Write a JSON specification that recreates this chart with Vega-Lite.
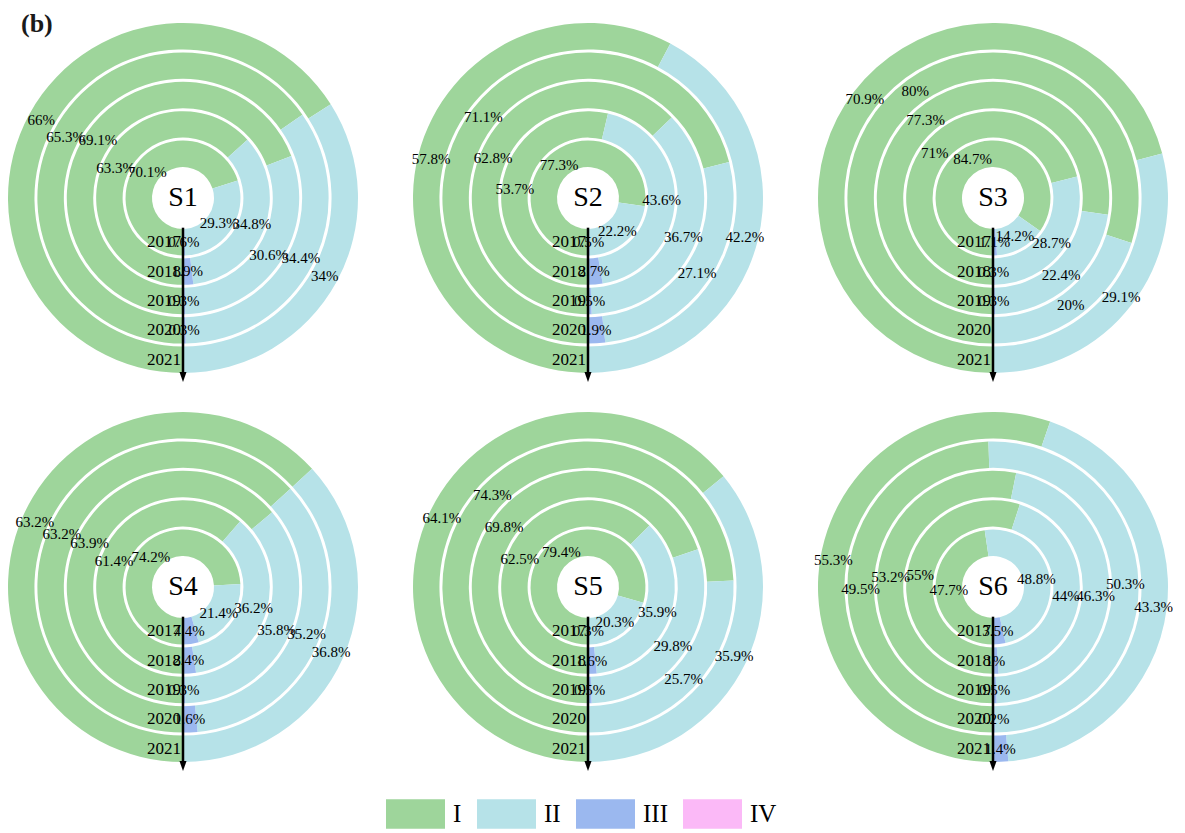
{
  "$schema": "https://vega.github.io/schema/vega-lite/v6.json",
  "background": "white",
  "padding": {"left": 3, "top": 11, "right": 0, "bottom": 0},
  "title": {"text": "(b)", "anchor": "start", "font": "Liberation Serif", "fontSize": 26, "fontWeight": "bold", "color": "#1a1a1a", "offset": -19, "dx": 18},
  "data": {"values": [
    {"site":"S1","year":"2017","cat":"I","value":0.701},{"site":"S1","year":"2017","cat":"II","value":0.293},{"site":"S1","year":"2017","cat":"III","value":0.006},{"site":"S1","year":"2017","cat":"IV","value":0},
    {"site":"S1","year":"2018","cat":"I","value":0.633},{"site":"S1","year":"2018","cat":"II","value":0.348},{"site":"S1","year":"2018","cat":"III","value":0.019},{"site":"S1","year":"2018","cat":"IV","value":0},
    {"site":"S1","year":"2019","cat":"I","value":0.691},{"site":"S1","year":"2019","cat":"II","value":0.306},{"site":"S1","year":"2019","cat":"III","value":0.003},{"site":"S1","year":"2019","cat":"IV","value":0},
    {"site":"S1","year":"2020","cat":"I","value":0.653},{"site":"S1","year":"2020","cat":"II","value":0.344},{"site":"S1","year":"2020","cat":"III","value":0.003},{"site":"S1","year":"2020","cat":"IV","value":0},
    {"site":"S1","year":"2021","cat":"I","value":0.66},{"site":"S1","year":"2021","cat":"II","value":0.34},{"site":"S1","year":"2021","cat":"III","value":0},{"site":"S1","year":"2021","cat":"IV","value":0},
    {"site":"S2","year":"2017","cat":"I","value":0.773},{"site":"S2","year":"2017","cat":"II","value":0.222},{"site":"S2","year":"2017","cat":"III","value":0.005},{"site":"S2","year":"2017","cat":"IV","value":0},
    {"site":"S2","year":"2018","cat":"I","value":0.537},{"site":"S2","year":"2018","cat":"II","value":0.436},{"site":"S2","year":"2018","cat":"III","value":0.027},{"site":"S2","year":"2018","cat":"IV","value":0},
    {"site":"S2","year":"2019","cat":"I","value":0.628},{"site":"S2","year":"2019","cat":"II","value":0.367},{"site":"S2","year":"2019","cat":"III","value":0.005},{"site":"S2","year":"2019","cat":"IV","value":0},
    {"site":"S2","year":"2020","cat":"I","value":0.711},{"site":"S2","year":"2020","cat":"II","value":0.271},{"site":"S2","year":"2020","cat":"III","value":0.019},{"site":"S2","year":"2020","cat":"IV","value":0},
    {"site":"S2","year":"2021","cat":"I","value":0.578},{"site":"S2","year":"2021","cat":"II","value":0.422},{"site":"S2","year":"2021","cat":"III","value":0},{"site":"S2","year":"2021","cat":"IV","value":0},
    {"site":"S3","year":"2017","cat":"I","value":0.847},{"site":"S3","year":"2017","cat":"II","value":0.142},{"site":"S3","year":"2017","cat":"III","value":0.011},{"site":"S3","year":"2017","cat":"IV","value":0},
    {"site":"S3","year":"2018","cat":"I","value":0.71},{"site":"S3","year":"2018","cat":"II","value":0.287},{"site":"S3","year":"2018","cat":"III","value":0.003},{"site":"S3","year":"2018","cat":"IV","value":0},
    {"site":"S3","year":"2019","cat":"I","value":0.773},{"site":"S3","year":"2019","cat":"II","value":0.224},{"site":"S3","year":"2019","cat":"III","value":0.003},{"site":"S3","year":"2019","cat":"IV","value":0},
    {"site":"S3","year":"2020","cat":"I","value":0.8},{"site":"S3","year":"2020","cat":"II","value":0.2},{"site":"S3","year":"2020","cat":"III","value":0},{"site":"S3","year":"2020","cat":"IV","value":0},
    {"site":"S3","year":"2021","cat":"I","value":0.709},{"site":"S3","year":"2021","cat":"II","value":0.291},{"site":"S3","year":"2021","cat":"III","value":0},{"site":"S3","year":"2021","cat":"IV","value":0},
    {"site":"S4","year":"2017","cat":"I","value":0.742},{"site":"S4","year":"2017","cat":"II","value":0.214},{"site":"S4","year":"2017","cat":"III","value":0.044},{"site":"S4","year":"2017","cat":"IV","value":0},
    {"site":"S4","year":"2018","cat":"I","value":0.614},{"site":"S4","year":"2018","cat":"II","value":0.362},{"site":"S4","year":"2018","cat":"III","value":0.024},{"site":"S4","year":"2018","cat":"IV","value":0},
    {"site":"S4","year":"2019","cat":"I","value":0.639},{"site":"S4","year":"2019","cat":"II","value":0.358},{"site":"S4","year":"2019","cat":"III","value":0.003},{"site":"S4","year":"2019","cat":"IV","value":0},
    {"site":"S4","year":"2020","cat":"I","value":0.632},{"site":"S4","year":"2020","cat":"II","value":0.352},{"site":"S4","year":"2020","cat":"III","value":0.016},{"site":"S4","year":"2020","cat":"IV","value":0},
    {"site":"S4","year":"2021","cat":"I","value":0.632},{"site":"S4","year":"2021","cat":"II","value":0.368},{"site":"S4","year":"2021","cat":"III","value":0},{"site":"S4","year":"2021","cat":"IV","value":0},
    {"site":"S5","year":"2017","cat":"I","value":0.794},{"site":"S5","year":"2017","cat":"II","value":0.203},{"site":"S5","year":"2017","cat":"III","value":0.003},{"site":"S5","year":"2017","cat":"IV","value":0},
    {"site":"S5","year":"2018","cat":"I","value":0.625},{"site":"S5","year":"2018","cat":"II","value":0.359},{"site":"S5","year":"2018","cat":"III","value":0.016},{"site":"S5","year":"2018","cat":"IV","value":0},
    {"site":"S5","year":"2019","cat":"I","value":0.698},{"site":"S5","year":"2019","cat":"II","value":0.298},{"site":"S5","year":"2019","cat":"III","value":0.005},{"site":"S5","year":"2019","cat":"IV","value":0},
    {"site":"S5","year":"2020","cat":"I","value":0.743},{"site":"S5","year":"2020","cat":"II","value":0.257},{"site":"S5","year":"2020","cat":"III","value":0},{"site":"S5","year":"2020","cat":"IV","value":0},
    {"site":"S5","year":"2021","cat":"I","value":0.641},{"site":"S5","year":"2021","cat":"II","value":0.359},{"site":"S5","year":"2021","cat":"III","value":0},{"site":"S5","year":"2021","cat":"IV","value":0},
    {"site":"S6","year":"2017","cat":"I","value":0.477},{"site":"S6","year":"2017","cat":"II","value":0.488},{"site":"S6","year":"2017","cat":"III","value":0.035},{"site":"S6","year":"2017","cat":"IV","value":0},
    {"site":"S6","year":"2018","cat":"I","value":0.55},{"site":"S6","year":"2018","cat":"II","value":0.44},{"site":"S6","year":"2018","cat":"III","value":0.01},{"site":"S6","year":"2018","cat":"IV","value":0},
    {"site":"S6","year":"2019","cat":"I","value":0.532},{"site":"S6","year":"2019","cat":"II","value":0.463},{"site":"S6","year":"2019","cat":"III","value":0.005},{"site":"S6","year":"2019","cat":"IV","value":0},
    {"site":"S6","year":"2020","cat":"I","value":0.495},{"site":"S6","year":"2020","cat":"II","value":0.503},{"site":"S6","year":"2020","cat":"III","value":0.002},{"site":"S6","year":"2020","cat":"IV","value":0},
    {"site":"S6","year":"2021","cat":"I","value":0.553},{"site":"S6","year":"2021","cat":"II","value":0.433},{"site":"S6","year":"2021","cat":"III","value":0.014},{"site":"S6","year":"2021","cat":"IV","value":0}
  ]},
  "facet": {"field": "site", "type": "nominal", "title": null, "header": {"title": null, "labels": false, "labelExpr": "''", "labelFontSize": 0, "labelPadding": 0, "titlePadding": 0}},
  "columns": 3,
  "spacing": {"row": 29, "column": 45},
  "bounds": "flush",
  "spec": {
    "width": 360,
    "height": 360,
    "layer": [
      {
        "mark": {"type": "arc", "strokeWidth": 0},
        "encoding": {
          "theta": {"field": "value", "type": "quantitative", "stack": "normalize", "scale": {"domain": [0, 1], "range": [3.14159265, 9.42477796]}},
          "radius": {"field": "year", "type": "ordinal", "scale": {"type": "band", "domain": ["2017","2018","2019","2020","2021"], "range": [31, 175], "paddingInner": 0.1, "paddingOuter": 0}},
          "order": {"field": "cat", "type": "ordinal", "sort": "ascending"},
          "color": {"field": "cat", "type": "nominal",
            "scale": {"domain": ["I","II","III","IV"], "range": ["#9ed59b", "#b6e2e8", "#9bb8ef", "#fbb9f7"]},
            "legend": {"title": null, "orient": "none", "legendX": 383, "legendY": 766, "direction": "horizontal",
              "symbolType": "M-1,-0.5H1V0.5H-1Z", "symbolSize": 3481, "symbolStrokeWidth": 0, "symbolOpacity": 1,
              "labelFont": "Liberation Serif", "labelFontSize": 25, "labelColor": "black", "labelOffset": 8, "columnPadding": 15}}
        }
      },
      {
        "transform": [{"filter": "datum.value > 0"}],
        "mark": {"type": "text", "font": "Liberation Serif", "fontSize": 15, "color": "black"},
        "encoding": {
          "theta": {"field": "value", "type": "quantitative", "stack": "normalize", "scale": {"domain": [0, 1], "range": [3.14159265, 9.42477796]}},
          "radius": {"field": "year", "type": "ordinal", "bandPosition": 0.5, "scale": {"type": "band", "domain": ["2017","2018","2019","2020","2021"], "range": [31, 175], "paddingInner": 0.1, "paddingOuter": 0}},
          "order": {"field": "cat", "type": "ordinal", "sort": "ascending"},
          "text": {"field": "value", "type": "quantitative", "format": ".1~%"}
        }
      },
      {
        "transform": [{"aggregate": [{"op": "count", "as": "n"}], "groupby": ["site", "year"]}],
        "mark": {"type": "text", "font": "Liberation Serif", "fontSize": 17, "color": "black", "align": "right", "baseline": "middle", "dx": -2},
        "encoding": {
          "theta": {"datum": 0, "type": "quantitative"},
          "radius": {"field": "year", "type": "ordinal", "bandPosition": 0.5},
          "text": {"field": "year", "type": "nominal"}
        }
      },
      {
        "transform": [{"aggregate": [{"op": "count", "as": "n"}], "groupby": ["site"]}],
        "mark": {"type": "text", "font": "Liberation Serif", "fontSize": 28, "color": "black", "baseline": "middle"},
        "encoding": {
          "text": {"field": "site", "type": "nominal"}
        }
      },
      {
        "transform": [{"aggregate": [{"op": "count", "as": "n"}], "groupby": ["site"]}],
        "mark": {"type": "rule", "color": "black", "strokeWidth": 2.5},
        "encoding": {
          "x": {"datum": 0, "type": "quantitative", "scale": {"domain": [-1, 1]}, "axis": null},
          "y": {"datum": 0.165, "type": "quantitative", "scale": {"domain": [-1, 1], "reverse": true}, "axis": null},
          "y2": {"datum": 0.975}
        }
      },
      {
        "transform": [{"aggregate": [{"op": "count", "as": "n"}], "groupby": ["site"]}],
        "mark": {"type": "point", "shape": "M-0.7,-1L0.7,-1L0,1Z", "size": 100, "filled": true, "color": "black", "opacity": 1, "strokeWidth": 0},
        "encoding": {
          "x": {"datum": 0, "type": "quantitative"},
          "y": {"datum": 0.995, "type": "quantitative"}
        }
      }
    ]
  },
  "config": {"view": {"stroke": null}, "font": "Liberation Serif", "headerFacet": {"labels": false, "labelPadding": 0, "titlePadding": 0}}
}
